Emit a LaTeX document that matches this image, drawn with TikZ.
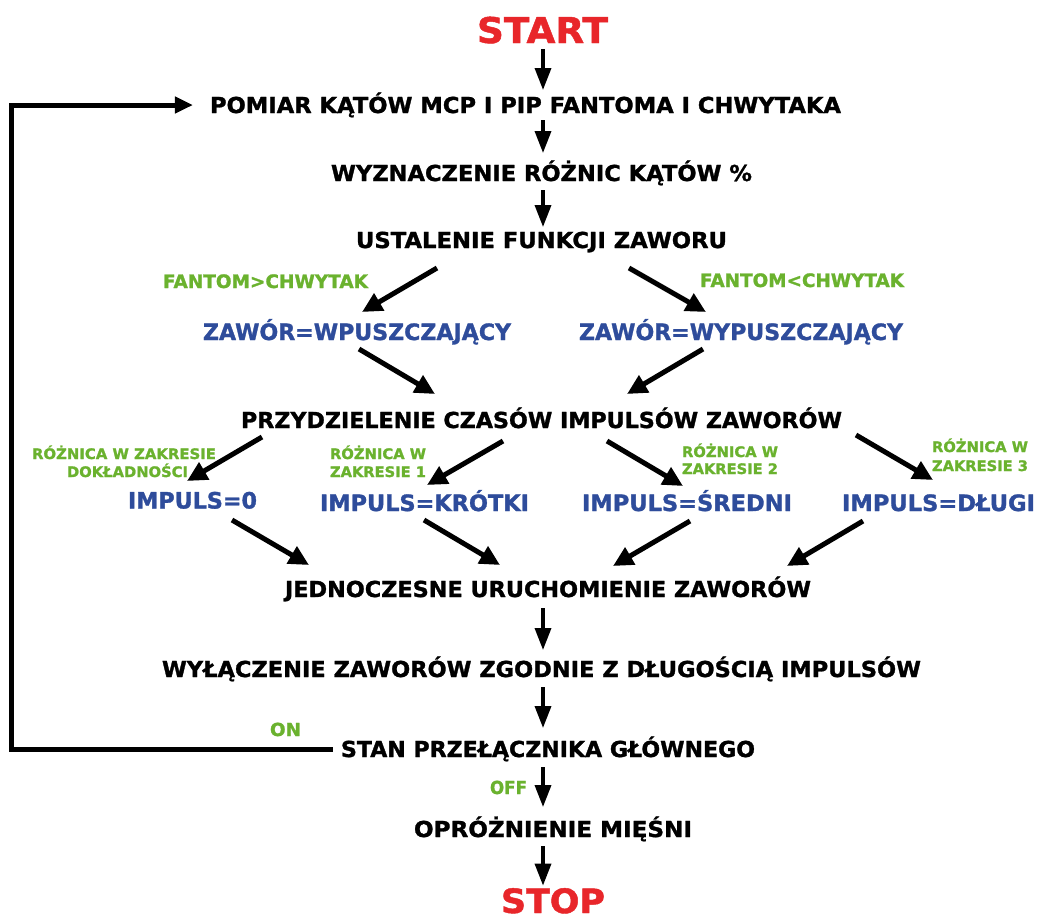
\documentclass[tikz,border=0pt]{standalone}
\usepackage{fontspec}
\setmainfont{DejaVu Sans}[BoldFeatures={FakeBold=1.3}]
\usepackage{graphicx}
\usetikzlibrary{arrows.meta}
\definecolor{cred}{RGB}{232,38,42}
\definecolor{cblue}{RGB}{46,76,155}
\definecolor{cgreen}{RGB}{106,178,46}
\newcommand\fitw[2]{\resizebox{#1pt}{\height}{#2}}
\tikzset{
  every node/.style={inner sep=0pt, outer sep=0pt, anchor=base},
  blk/.style={font=\fontsize{22}{26}\selectfont\bfseries, text height=16pt, text depth=0pt},
  blu/.style={font=\fontsize{22.5}{26}\selectfont\bfseries, text=cblue, text height=16.4pt, text depth=0pt},
  grn/.style={font=\fontsize{18.5}{22}\selectfont\bfseries, text=cgreen, text height=13.5pt, text depth=0pt},
  sgrn/.style={font=\fontsize{14.5}{17}\selectfont\bfseries, text=cgreen, text height=10.6pt, text depth=0pt},
  onoff/.style={font=\fontsize{18}{20}\selectfont\bfseries, text=cgreen, text height=13pt, text depth=0pt},
  term/.style={font=\fontsize{35.5}{40}\selectfont\bfseries, text=cred, text height=26pt, text depth=0pt},
  endterm/.style={font=\fontsize{33.5}{38}\selectfont\bfseries, text=cred, text height=24.4pt, text depth=0pt},
  varr/.style={line width=3.5pt, -{Triangle[length=22pt,width=16pt]}},
  darr/.style={line width=5pt, -{Triangle[length=20pt,width=19pt]}},
  looparr/.style={line width=5pt, line join=miter, -{Triangle[length=18pt,width=16pt]}}
}
\begin{document}
\begin{tikzpicture}[x=1pt,y=-1pt]
\useasboundingbox[fill=white] (0,0) rectangle (1038,922);

% main flow
\node[term] (start) at (542.5,43) {\fitw{131}{START}};
\node[blk] (pomiar) at (525.5,113) {\fitw{631}{POMIAR KĄTÓW MCP I PIP FANTOMA I CHWYTAKA}};
\node[blk] (wyz) at (541.5,181) {\fitw{421}{WYZNACZENIE RÓŻNIC KĄTÓW \%}};
\node[blk] (ust) at (541.5,248) {\fitw{371}{USTALENIE FUNKCJI ZAWORU}};
\node[grn] (fl) at (265.5,288) {\fitw{205}{FANTOM>CHWYTAK}};
\node[grn] (fr) at (802,287) {\fitw{204}{FANTOM<CHWYTAK}};
\node[blu] (zl) at (357,340) {\fitw{308}{ZAWÓR=WPUSZCZAJĄCY}};
\node[blu] (zr) at (741,340) {\fitw{324}{ZAWÓR=WYPUSZCZAJĄCY}};
\node[blk] (przy) at (541.5,428) {\fitw{601}{PRZYDZIELENIE CZASÓW IMPULSÓW ZAWORÓW}};
\node[sgrn] (r0a) at (124,459) {\fitw{184}{RÓŻNICA W ZAKRESIE}};
\node[sgrn] (r0b) at (127.5,477) {\fitw{121}{DOKŁADNOŚCI}};
\node[sgrn] (r1a) at (378,459) {\fitw{96}{RÓŻNICA W}};
\node[sgrn] (r1b) at (378,477) {\fitw{96}{ZAKRESIE 1}};
\node[sgrn] (r2a) at (730,457) {\fitw{96}{RÓŻNICA W}};
\node[sgrn] (r2b) at (730,474) {\fitw{96}{ZAKRESIE 2}};
\node[sgrn] (r3a) at (980,452) {\fitw{96}{RÓŻNICA W}};
\node[sgrn] (r3b) at (980,471) {\fitw{96}{ZAKRESIE 3}};
\node[blu] (i0) at (192.5,508.5) {\fitw{129}{IMPULS=0}};
\node[blu] (i1) at (424.5,511) {\fitw{209}{IMPULS=KRÓTKI}};
\node[blu] (i2) at (687,511) {\fitw{210}{IMPULS=ŚREDNI}};
\node[blu] (i3) at (938.5,511) {\fitw{193}{IMPULS=DŁUGI}};
\node[blk] (jed) at (548,597) {\fitw{526}{JEDNOCZESNE URUCHOMIENIE ZAWORÓW}};
\node[blk] (wyl) at (541.5,677) {\fitw{759}{WYŁĄCZENIE ZAWORÓW ZGODNIE Z DŁUGOŚCIĄ IMPULSÓW}};
\node[onoff] (on) at (285.5,736) {\fitw{31}{ON}};
\node[blk] (stan) at (548,757) {\fitw{414}{STAN PRZEŁĄCZNIKA GŁÓWNEGO}};
\node[onoff] (off) at (508.5,794) {\fitw{37}{OFF}};
\node[blk] (opr) at (553,837) {\fitw{278}{OPRÓŻNIENIE MIĘŚNI}};
\node[endterm] (stop) at (553,913) {\fitw{104}{STOP}};

% vertical connectors
\coordinate (vx) at (543,0);
\draw[varr, shorten <=6pt, shorten >=7pt] (start.south -| vx) -- (pomiar.north -| vx);
\draw[varr, shorten <=7pt, shorten >=12pt] (pomiar.south -| vx) -- (wyz.north -| vx);
\draw[varr, shorten <=9pt, shorten >=5pt] (wyz.south -| vx) -- (ust.north -| vx);
\draw[varr, shorten <=11pt, shorten >=11pt] (jed.south -| vx) -- (wyl.north -| vx);
\draw[varr, shorten <=10pt, shorten >=13pt] (wyl.south -| vx) -- (stan.north -| vx);
\draw[varr, shorten <=10pt, shorten >=14pt] (stan.south -| vx) -- (opr.north -| vx);
\draw[varr, shorten <=9pt, shorten >=3pt] (opr.south -| vx) -- (stop.north -| vx);

% diagonal connectors
\coordinate (d1s) at (437,268); \coordinate (d1e) at (362,312);
\coordinate (d2s) at (629,268); \coordinate (d2e) at (706,312);
\coordinate (d3s) at (359,349); \coordinate (d3e) at (435,394);
\coordinate (d4s) at (703,349); \coordinate (d4e) at (627,394);
\coordinate (d5s) at (262,437); \coordinate (d5e) at (187,481);
\coordinate (d6s) at (503,441); \coordinate (d6e) at (427,485);
\coordinate (d7s) at (607,441); \coordinate (d7e) at (683,486);
\coordinate (d8s) at (856,435); \coordinate (d8e) at (933,480);
\coordinate (d9s) at (232,520); \coordinate (d9e) at (309,565);
\coordinate (d10s) at (424,520); \coordinate (d10e) at (500,565);
\coordinate (d11s) at (690,521); \coordinate (d11e) at (613,566);
\coordinate (d12s) at (863,521); \coordinate (d12e) at (787,566);
\foreach \i in {1,...,12} {\draw[darr] (d\i s) -- (d\i e);}

% loop back
\coordinate (lp) at (11,0);
\draw[looparr, shorten <=8pt, shorten >=17pt] (stan.west) -| (lp |- pomiar.west) -- (pomiar.west);
\end{tikzpicture}
\end{document}
